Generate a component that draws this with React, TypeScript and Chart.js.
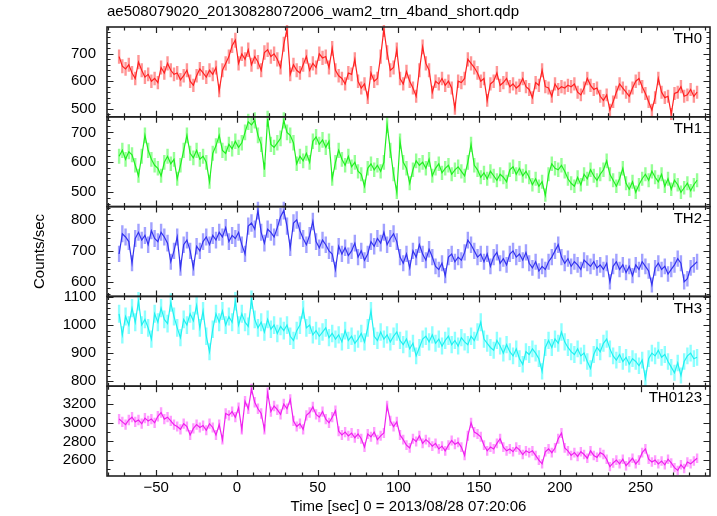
import React, { useEffect, useRef } from 'react';
import { Chart, registerables } from 'chart.js';

Chart.register(...registerables);

// ---- data (1 value every 2 s, first bin at t = -73 s) ----
const T_START = -73;
const BIN_SEC = 2;

const TH0 = [
  690, 655, 645, 660, 630, 610, 670, 640, 615, 625,
  600, 610, 595, 650, 630, 665, 640, 625, 630, 605,
  620, 640, 600, 585, 620, 645, 630, 615, 640, 625,
  650, 565, 640, 665, 690, 730, 750, 665, 700, 680,
  715, 660, 690, 670, 640, 705, 715, 690, 700, 680,
  650, 735, 790, 625, 660, 640, 630, 660, 690, 640,
  665, 650, 700, 685, 690, 650, 720, 640, 620, 610,
  590, 630, 625, 680, 600, 575, 590, 540, 630, 600,
  610, 690, 790, 705, 640, 650, 715, 610, 590, 635,
  600, 575, 545, 640, 725, 665, 640, 560, 600, 590,
  610, 585, 600, 575, 500, 600, 595, 610, 680, 665,
  650, 630, 600, 610, 530, 590, 600, 630, 585, 595,
  610, 580, 590, 575, 585, 610, 580, 570, 540, 595,
  585, 640, 580, 575, 545, 590, 570, 580, 575, 585,
  580, 590, 560, 550, 575, 610, 585, 570, 575, 545,
  530, 550, 495, 525, 560, 590, 575, 560, 545, 575,
  600, 610, 580, 555, 525, 495, 540, 610, 560, 540,
  545, 480, 555, 560, 580, 545, 550, 570, 545, 560,
];

const TH1 = [
  620, 640, 610, 635, 625, 590, 555, 620, 690, 640,
  610, 590, 580, 555, 600, 620, 595, 610, 545, 590,
  640, 690, 630, 615, 640, 610, 620, 600, 535, 630,
  655, 690, 640, 630, 660, 645, 670, 650, 665, 700,
  735, 725, 740, 690, 660, 575, 745, 660, 650, 665,
  680, 740, 700, 690, 665, 595, 620, 605, 630, 600,
  670, 685, 660, 675, 650, 670, 545, 600, 640, 610,
  590, 620, 585, 600, 570, 560, 520, 580, 595, 575,
  590, 570, 600, 725, 640, 560, 500, 670, 600, 580,
  530, 575, 605, 590, 600, 580, 610, 555, 580, 595,
  565, 580, 590, 560, 575, 585, 570, 555, 600, 660,
  590, 575, 550, 565, 545, 570, 555, 540, 560, 550,
  535, 575, 585, 560, 580, 555, 570, 550, 525, 545,
  520, 535, 490, 560, 595, 580, 575, 590, 570, 545,
  530, 520, 550, 525, 560, 545, 575, 555, 540, 560,
  575, 605, 560, 540, 520, 545, 580, 530, 510, 535,
  500, 525, 545, 560, 540, 570, 550, 535, 560, 520,
  545, 510, 540, 525, 500, 515, 530, 505, 525, 540,
];

const TH2 = [
  690, 755, 745, 730, 660, 740, 760, 735, 750, 720,
  765, 740, 730, 760, 745, 725, 665, 700, 745, 645,
  720, 735, 700, 645, 715, 700, 730, 745, 720, 750,
  735, 760, 745, 775, 730, 750, 740, 760, 720, 690,
  780, 790, 770, 830, 760, 725, 770, 760, 745, 775,
  810, 830, 780, 710, 790, 800, 765, 740, 720, 750,
  795, 730, 710, 735, 720, 700, 690, 640, 715, 690,
  710, 685, 700, 725, 680, 700, 670, 690, 730, 715,
  740, 725, 760, 720, 740, 755, 730, 680, 660, 690,
  645, 700, 680, 720, 690, 670, 705, 680, 650, 640,
  660, 620, 680, 690, 665, 680, 670, 695, 735, 720,
  700, 680, 690, 665, 690, 650, 680, 695, 660, 675,
  655, 690, 700, 680, 690, 670, 695, 660, 645, 665,
  635, 650, 640, 665, 680, 700, 720, 680, 660, 675,
  650, 665, 655, 640, 670, 660, 650, 665, 645, 655,
  640, 660, 600, 650, 665, 640, 655, 630, 650, 620,
  655, 640, 665, 650, 635, 590, 645, 660, 640, 650,
  625, 640, 655, 675, 660, 600, 610, 645, 655, 665,
];

const TH3 = [
  1040, 965, 1030, 1000, 1060, 1010, 1085, 1000, 1020, 990,
  950, 1040, 1010, 1060, 1020, 1005, 1080, 1030, 990, 955,
  1020, 1000, 1040, 1015, 1070, 990, 1050, 960, 905, 985,
  1040, 1010, 1050, 1000, 1030, 1010, 1085, 1000, 1040, 1010,
  995, 1090, 1020, 990, 1010, 975, 1020, 985, 1000, 970,
  995, 980, 1000, 960, 945, 980, 1000, 1055, 990, 1000,
  965, 980, 960, 975, 990, 955, 970, 950, 965, 940,
  980, 945, 960, 935, 950, 970, 940, 990, 1050, 960,
  945, 975, 950, 965, 940, 960, 975, 945, 930, 950,
  915, 935, 890, 920, 950, 960, 940, 965, 935, 950,
  925, 945, 960, 930, 945, 925, 955, 940, 930, 960,
  945, 975, 1010, 950, 935, 920, 910, 945, 925, 900,
  930, 905, 890, 915, 880, 860, 905, 895, 915, 900,
  880, 835, 920, 945, 920, 950, 935, 975, 940, 920,
  905, 895, 915, 890, 900, 870, 845, 895, 920, 905,
  935, 950, 915, 890, 875, 895, 870, 885, 860, 880,
  870, 855, 875, 810, 880, 900, 890, 910, 885, 895,
  870, 850, 830, 865, 820, 870, 890, 900, 880, 885,
];

const TH0123 = [
  3040, 3010, 2980, 3030, 3060, 3010, 3030, 2990, 3050, 3020,
  3040, 3000, 3070, 3110, 3040, 3060, 3020, 2980, 2960, 2930,
  2990, 2960, 2870, 2940, 2980, 2950, 2970, 2920, 2990, 2950,
  2870, 2980, 2820, 3100, 3080, 3120, 3060, 3160, 2930, 3230,
  3150, 3360, 3220, 3150, 3100, 2930, 3320, 3120, 3180, 3140,
  3090, 3200, 3150, 3250, 3020, 2960, 2990, 2930, 3080, 3110,
  3170, 3090, 3060, 3120, 3040, 3000, 3060, 3130, 2910, 2870,
  2900, 2860, 2890, 2840, 2880, 2830, 2740, 2880, 2850, 2900,
  2820, 2860, 2890, 3180, 3020, 2960, 3010, 2870, 2820, 2760,
  2730, 2830, 2800, 2860, 2780, 2820, 2790, 2750, 2780, 2720,
  2750, 2700, 2760, 2810, 2770, 2790, 2740, 2650, 2860, 3000,
  2900, 2880, 2850, 2760, 2700, 2740, 2720, 2780, 2830, 2740,
  2700, 2720, 2690, 2740, 2710, 2660, 2700, 2680, 2700, 2650,
  2600, 2560, 2690, 2720, 2680, 2730, 2830, 2890, 2730, 2700,
  2650, 2680, 2640, 2690, 2660, 2620, 2700, 2650, 2630, 2680,
  2660, 2610, 2530, 2570, 2600, 2560, 2610, 2540, 2580, 2620,
  2560, 2600, 2680, 2720, 2610, 2580, 2600, 2560, 2590, 2550,
  2610, 2570, 2520, 2490, 2550, 2510, 2580, 2560, 2590, 2620,
];

const PANEL_NAMES = ['TH0', 'TH1', 'TH2', 'TH3', 'TH0123'];
const PANEL_SERIES = [TH0, TH1, TH2, TH3, TH0123];
const Y_MIN = [470, 452, 553, 782, 2430];
const Y_MAX = [798, 752, 843, 1102, 3392];
const Y_MAJOR = [100, 100, 100, 100, 200];
const Y_MINOR = [20, 20, 20, 20, 100];
const X_MIN = -80.5;
const X_MAX = 293;
const X_MAJOR = 50;
const X_MINOR = 10;

const TITLE = 'ae508079020_20130828072006_wam2_trn_4band_short.qdp';
const X_TITLE = 'Time [sec] 0 = 2013/08/28 07:20:06';
const Y_TITLE = 'Counts/sec';

const LINE_COLORS = ['#ff2222', '#22ee22', '#3333ee', '#22f0f0', '#ee22ee'];
const ERR_COLORS = [
  'rgba(255,80,80,0.6)',
  'rgba(80,255,80,0.6)',
  'rgba(100,100,255,0.6)',
  'rgba(80,255,255,0.65)',
  'rgba(255,90,255,0.6)',
];

const FONT = "'Liberation Sans', Arial, Helvetica, sans-serif";

function majorValues(min: number, max: number, step: number) {
  const out: number[] = [];
  for (let v = Math.ceil(min / step) * step; v <= max; v += step) out.push(v);
  return out;
}

const errorBarPlugin = {
  id: 'errbars',
  beforeDatasetsDraw(chart: any) {
    const ctx = chart.ctx;
    const xs = chart.scales.x;
    const a = chart.chartArea;
    ctx.save();
    ctx.beginPath();
    ctx.rect(a.left, a.top - 2, a.right - a.left, a.bottom - a.top + 4);
    ctx.clip();
    chart.data.datasets.forEach((ds: any) => {
      const ys = chart.scales[ds.yAxisID];
      ctx.strokeStyle = ds.errColor;
      ctx.lineWidth = 2.4;
      ctx.beginPath();
      ds.data.forEach((p: any) => {
        const e = Math.sqrt(p.y);
        const px = xs.getPixelForValue(p.x);
        ctx.moveTo(px, ys.getPixelForValue(p.y - e));
        ctx.lineTo(px, ys.getPixelForValue(p.y + e));
      });
      ctx.stroke();
    });
    ctx.restore();
  },
};

const framePlugin = {
  id: 'frames',
  afterDatasetsDraw(chart: any) {
    const ctx = chart.ctx;
    const xs = chart.scales.x;
    const a = chart.chartArea;
    ctx.save();
    ctx.strokeStyle = '#222';
    PANEL_NAMES.forEach((name, i) => {
      const ys = chart.scales['y' + i];
      const top = ys.top;
      const bottom = ys.bottom;
      ctx.lineWidth = 1.2;
      ctx.beginPath();
      for (let t = Math.ceil(X_MIN / X_MINOR) * X_MINOR; t <= X_MAX; t += X_MINOR) {
        const px = Math.round(xs.getPixelForValue(t)) + 0.5;
        const len = t % X_MAJOR === 0 ? 6 : 3.5;
        ctx.moveTo(px, top);
        ctx.lineTo(px, top + len);
        ctx.moveTo(px, bottom);
        ctx.lineTo(px, bottom - len);
      }
      const start = Math.ceil(Y_MIN[i] / Y_MINOR[i]) * Y_MINOR[i];
      for (let v = start; v <= Y_MAX[i]; v += Y_MINOR[i]) {
        const py = Math.round(ys.getPixelForValue(v)) + 0.5;
        const len = v % Y_MAJOR[i] === 0 ? 6.5 : 3.5;
        ctx.moveTo(a.left, py);
        ctx.lineTo(a.left + len, py);
        ctx.moveTo(a.right, py);
        ctx.lineTo(a.right - len, py);
      }
      ctx.stroke();
      ctx.lineWidth = 1.6;
      ctx.strokeRect(a.left, top, a.right - a.left, bottom - top);
      ctx.fillStyle = '#000';
      ctx.font = `15px ${FONT}`;
      ctx.textAlign = 'right';
      ctx.textBaseline = 'middle';
      ctx.fillText(name, a.right - 8, top + 12);
    });
    ctx.translate(40, (a.top + a.bottom) / 2);
    ctx.rotate(-Math.PI / 2);
    ctx.textAlign = 'center';
    ctx.textBaseline = 'middle';
    ctx.fillStyle = '#000';
    ctx.font = `15px ${FONT}`;
    ctx.fillText(Y_TITLE, 0, 0);
    ctx.restore();
  },
};

export default function App() {
  const ref = useRef<HTMLCanvasElement | null>(null);

  useEffect(() => {
    if (!ref.current) return;
    Chart.defaults.font.family = FONT;
    Chart.defaults.font.size = 15;
    Chart.defaults.color = '#000';

    const datasets = PANEL_SERIES.map((series, i) => ({
      label: PANEL_NAMES[i],
      data: series.map((v, k) => ({ x: T_START + k * BIN_SEC, y: v })),
      yAxisID: 'y' + i,
      borderColor: LINE_COLORS[i],
      borderWidth: 1.2,
      pointRadius: 0,
      tension: 0,
      fill: false,
      errColor: ERR_COLORS[i],
    }));

    const scales: any = {
      x: {
        type: 'linear',
        position: 'bottom',
        min: X_MIN,
        max: X_MAX,
        grid: { display: false, drawTicks: false },
        border: { display: false },
        afterBuildTicks: (s: any) => {
          s.ticks = majorValues(X_MIN, X_MAX, X_MAJOR).map((v) => ({ value: v }));
        },
        ticks: {
          autoSkip: false,
          padding: 3,
          maxRotation: 0,
          color: '#000',
          font: { size: 15 },
          callback: (v: any) => String(v).replace('-', '\u2212'),
        },
        title: {
          display: true,
          text: X_TITLE,
          color: '#000',
          font: { size: 15 },
          padding: { top: 0, bottom: 0 },
        },
        afterFit: (s: any) => {
          s.height = 40;
        },
      },
    };
    PANEL_NAMES.forEach((_, i) => {
      scales['y' + i] = {
        type: 'linear',
        position: 'left',
        stack: 'panels',
        stackWeight: 1,
        weight: 5 - i,
        offset: false,
        min: Y_MIN[i],
        max: Y_MAX[i],
        grid: { display: false, drawTicks: false },
        border: { display: false },
        afterBuildTicks: (s: any) => {
          s.ticks = majorValues(Y_MIN[i], Y_MAX[i], Y_MAJOR[i]).map((v) => ({ value: v }));
        },
        ticks: {
          autoSkip: false,
          padding: 11,
          color: '#000',
          font: { size: 15 },
          callback: (v: any) => String(v),
        },
        afterFit: (s: any) => {
          s.width = 107;
        },
      };
    });

    const chart = new Chart(ref.current, {
      type: 'line',
      data: { datasets: datasets as any },
      options: {
        animation: false,
        responsive: true,
        maintainAspectRatio: false,
        layout: { padding: { left: 0, right: 7, top: 0, bottom: 0 } },
        plugins: {
          legend: { display: false },
          tooltip: { enabled: false },
          title: {
            display: true,
            text: TITLE,
            align: 'start',
            fullSize: false,
            color: '#000',
            font: { size: 15, weight: 'normal' as any },
            padding: { top: 3, bottom: 6 },
          },
        },
        scales,
      },
      plugins: [errorBarPlugin, framePlugin],
    });
    return () => chart.destroy();
  }, []);

  return (
    <div style={{ position: 'absolute', left: 0, top: 0, width: 717, height: 516, background: '#fff' }}>
      <canvas ref={ref} />
    </div>
  );
}
